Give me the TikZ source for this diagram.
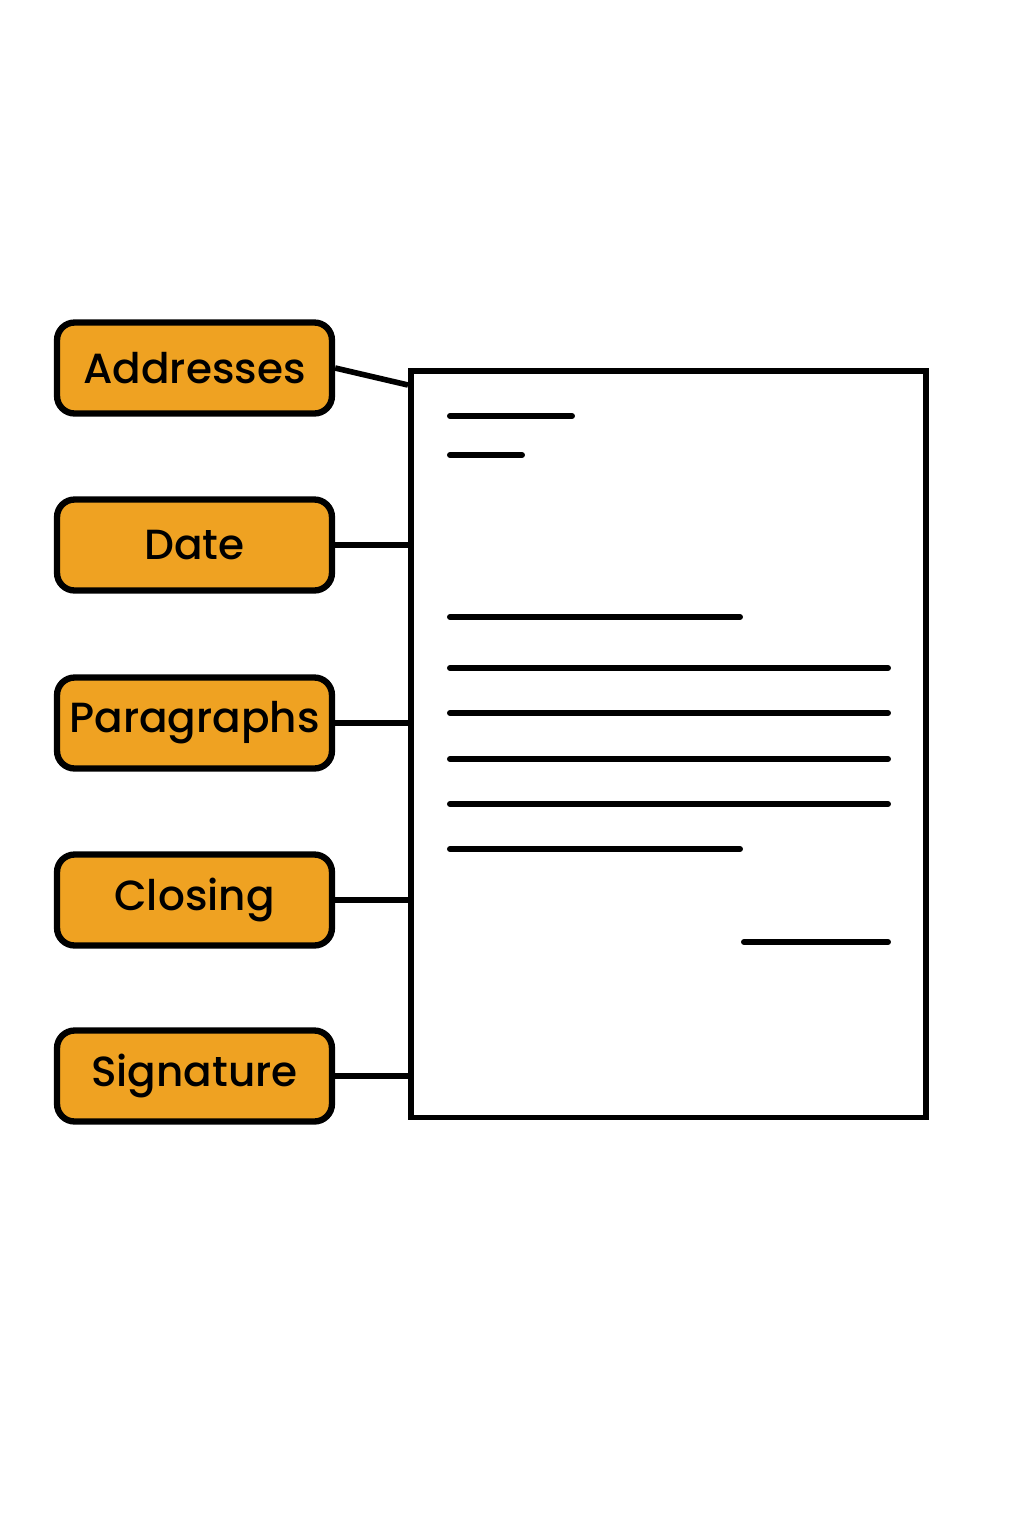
\documentclass[tikz,border=0pt]{standalone}
\usepackage{fontspec}
\setmainfont{Poppins}[UprightFont = * Medium]
\usetikzlibrary{positioning}
\definecolor{partorange}{HTML}{EFA222}

\begin{document}
\begin{tikzpicture}[x = 0.02cm, y = -0.02cm]
	\tikzset{partStyle/.style = {draw, fill = partorange, line width = 3.6pt, rounded corners = 10pt, minimum width = 5.5cm, minimum height = 1.82cm, font = \fontsize{24}{28}\selectfont}}
	\tikzset{linkStyle/.style = {line width = 3.2pt}}
	\tikzset{textLine/.style = {line width = 3.4pt, line cap = round}}
	\useasboundingbox (0,0) rectangle (1024,1536);
	\node[partStyle] (addresses) at (194.5,368) {Addresses};
	\node[partStyle] (date) at (194.5,545) {Date};
	\node[partStyle] (paragraphs) at (194.5,723) {Paragraphs};
	\node[partStyle] (closing) at (194.5,900) {Closing};
	\node[partStyle] (signature) at (194.5,1076) {Signature};
	\node[draw, line width = 3.2pt, minimum width = 10.3cm, minimum height = 14.94cm, anchor = north west] (letter) at (408,368) {};
	\coordinate (top) at (letter.north west |- 0,385);
	\draw[linkStyle] (addresses.east) -- (top);
	\draw[linkStyle] (date.east) -- (date.east -| letter.west);
	\draw[linkStyle] (paragraphs.east) -- (paragraphs.east -| letter.west);
	\draw[linkStyle] (closing.east) -- (closing.east -| letter.west);
	\draw[linkStyle] (signature.east) -- (signature.east -| letter.west);
	\draw[textLine] (450,416) -- (572,416);
	\draw[textLine] (450,455) -- (522,455);
	\draw[textLine] (450,617) -- (740,617);
	\foreach \y in {668, 713, 759, 804}
		\draw[textLine] (450,\y) -- (888,\y);
	\draw[textLine] (450,849) -- (740,849);
	\draw[textLine] (744,942) -- (888,942);
\end{tikzpicture}
\end{document}
